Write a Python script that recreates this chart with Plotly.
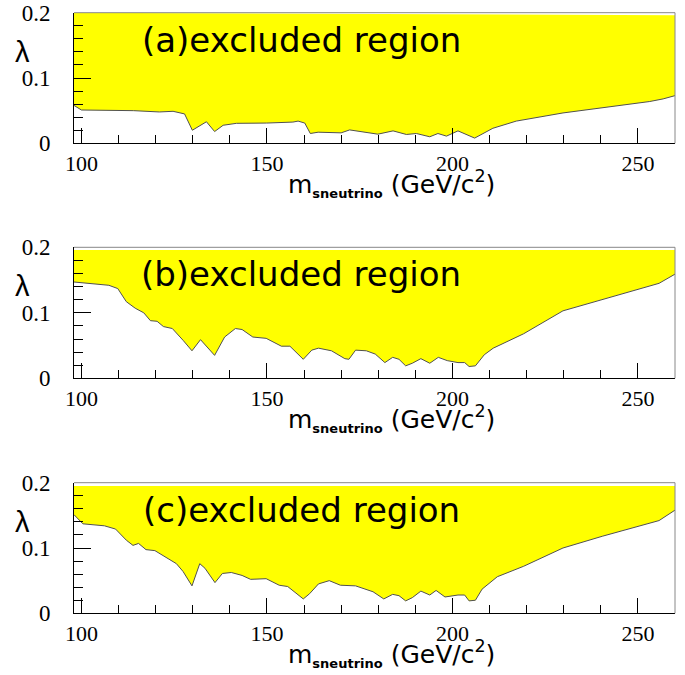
import plotly.graph_objects as go

# ---------------- data ----------------
x_range = [98, 260]
y_range = [0, 0.2]
x_major = [100, 150, 200, 250]
y_major = [0, 0.1, 0.2]
y_major_text = ["0", "0.1", "0.2"]

xa = [98, 100, 114, 121, 124.7, 127.8, 129.9, 133.7, 135.9, 138.2, 141.8, 149.9, 157, 158.4,
      160.2, 161.7, 163.8, 168.7, 170, 172.3, 174.3, 179.9, 184, 187.6, 190.3, 193.9, 196.1,
      198.4, 201.5, 206, 210.9, 217.2, 229.8, 243.3, 253.2, 256.8, 260]
ya = [0.058, 0.051, 0.050, 0.048, 0.049, 0.045, 0.020, 0.033, 0.018, 0.0276, 0.0306, 0.031,
      0.0325, 0.034, 0.031, 0.015, 0.017, 0.0165, 0.016, 0.0205, 0.019, 0.014, 0.019, 0.0135,
      0.015, 0.010, 0.015, 0.011, 0.019, 0.008, 0.023, 0.034, 0.0465, 0.0565, 0.064, 0.068, 0.073]

xb = [98, 100.4, 107.4, 109.8, 112.1, 114.5, 116.8, 118.6, 120.4, 122.1, 124.5, 127.4, 129.8,
      132.1, 133.9, 135.9, 138.6, 141.5, 143.3, 146.2, 149.8, 153.9, 156.2, 159.8, 162.1, 163.9,
      167.4, 171, 172.1, 173.9, 176.8, 179.2, 181.8, 183.9, 185.6, 187.4, 189.2, 191.5, 193.9,
      196.2, 198.6, 201.5, 203.3, 204.5, 206.2, 208.6, 211, 219.2, 229.8, 239.2, 249.8, 255.7, 260]
yb = [0.147, 0.146, 0.142, 0.137, 0.117, 0.107, 0.100, 0.088, 0.087, 0.079, 0.076, 0.058, 0.042,
      0.059, 0.048, 0.035, 0.063, 0.076, 0.0745, 0.063, 0.061, 0.049, 0.049, 0.029, 0.043, 0.046,
      0.042, 0.030, 0.029, 0.043, 0.042, 0.037, 0.024, 0.032, 0.029, 0.019, 0.023, 0.030, 0.023,
      0.032, 0.027, 0.024, 0.024, 0.018, 0.019, 0.036, 0.046, 0.068, 0.103, 0.118, 0.135, 0.145, 0.159]

xc = [98, 100.4, 106.2, 109.2, 112.1, 113.9, 115.4, 117.4, 119.8, 122.7, 125.6, 127.4, 129.8,
      131.9, 133.3, 136, 138, 140.4, 143.3, 145.6, 149.8, 153.3, 155.6, 159.8, 161.5, 163.9,
      166.8, 169.8, 173.9, 178.6, 181.5, 183.9, 185.6, 187.4, 189.2, 191.5, 193.9, 195.6, 198,
      201.5, 203.3, 204.5, 206.2, 208, 212.1, 219.2, 229.8, 240.4, 255.7, 260]
yc = [0.151, 0.137, 0.134, 0.129, 0.112, 0.104, 0.107, 0.0975, 0.096, 0.086, 0.076, 0.064, 0.042,
      0.076, 0.069, 0.047, 0.061, 0.0625, 0.058, 0.052, 0.053, 0.043, 0.041, 0.022, 0.030, 0.045,
      0.050, 0.043, 0.042, 0.033, 0.022, 0.029, 0.027, 0.019, 0.024, 0.034, 0.028, 0.035, 0.025,
      0.028, 0.028, 0.019, 0.020, 0.037, 0.056, 0.072, 0.100, 0.118, 0.142, 0.158]

top_a = [0.2, 0.196]
top_b = [0.196, 0.196]
top_c = [0.195, 0.195]

panel_tags = ["(a)", "(b)", "(c)"]
region_text = "excluded region"
y_title = "λ"
x_title = "m<sub><span style='font-size:13px'><b>sneutrino</b></span></sub> (GeV/c<sup>2</sup>)"

# ---------------- layout helpers ----------------
W, H = 685, 675
left_px, right_px = 74, 675
panels_px = [(12.7, 143.3), (247.3, 378.3), (482.7, 613.3)]  # (top, bottom) in px

def py(p):
    return 1 - p / H

def px(p):
    return p / W

fig = go.Figure()
curves = [(xa, ya, top_a), (xb, yb, top_b), (xc, yc, top_c)]

annotations = []
shapes = []
for i, (xs, ys, top) in enumerate(curves):
    n = "" if i == 0 else str(i + 1)
    xref, yref = "x" + n, "y" + n
    fig.add_trace(go.Scatter(
        x=list(xs) + [x_range[1], x_range[0]],
        y=list(ys) + [top[1], top[0]],
        fill="toself", fillcolor="#ffff00", mode="lines",
        line=dict(width=0), hoverinfo="skip", showlegend=False,
        xaxis=xref, yaxis=yref))
    fig.add_trace(go.Scatter(
        x=xs, y=ys, mode="lines", line=dict(color="#505050", width=1),
        hoverinfo="skip", showlegend=False, xaxis=xref, yaxis=yref))

    top_p, bot_p = panels_px[i]
    fig.layout["xaxis" + n] = dict(
        domain=[px(left_px), px(right_px)], range=x_range, anchor=yref,
        tickvals=x_major, ticks="inside", ticklen=15, tickwidth=1, tickcolor="black",
        showline=True, linecolor="black", linewidth=1, showgrid=False, zeroline=False,
        tickfont=dict(family="Liberation Serif", size=22, color="black"),
        ticklabelstandoff=0, automargin=False,
        minor=dict(dtick=10, tick0=100, ticks="inside", ticklen=8, tickwidth=1,
                   tickcolor="black", showgrid=False),
        fixedrange=True)
    fig.layout["yaxis" + n] = dict(
        domain=[py(bot_p), py(top_p)], range=y_range, anchor=xref,
        tickvals=y_major, ticktext=y_major_text, ticks="inside", ticklen=17, tickwidth=1,
        tickcolor="black", showline=True, linecolor="black", linewidth=1,
        showgrid=False, zeroline=False,
        tickfont=dict(family="Liberation Serif", size=23, color="black"),
        ticklabelstandoff=18, automargin=False,
        minor=dict(dtick=0.02, tick0=0, ticks="inside", ticklen=9, tickwidth=1,
                   tickcolor="black", showgrid=False),
        fixedrange=True)

    # top and right frame lines
    shapes.append(dict(type="line", xref=xref + " domain", yref=yref + " domain",
                       x0=0, x1=1, y0=1, y1=1, line=dict(color="#888888", width=1)))
    shapes.append(dict(type="line", xref=xref + " domain", yref=yref + " domain",
                       x0=1, x1=1, y0=0, y1=1, line=dict(color="#888888", width=1)))

    annotations.append(dict(
        text=panel_tags[i] + region_text, xref="paper", yref="paper",
        x=px(301), y=py(top_p + 27), xanchor="center", yanchor="middle", showarrow=False,
        font=dict(family="DejaVu Sans", size=34, color="black")))
    annotations.append(dict(
        text=y_title, xref="paper", yref="paper",
        x=px(22), y=py(top_p + 39), xanchor="center", yanchor="middle", showarrow=False,
        font=dict(family="Liberation Sans", size=29, color="black")))
    annotations.append(dict(
        text=x_title, xref="paper", yref="paper",
        x=px(392), y=py(bot_p + 40), xanchor="center", yanchor="middle", showarrow=False,
        font=dict(family="DejaVu Sans", size=25, color="black")))

fig.update_layout(
    width=W, height=H, margin=dict(l=0, r=0, t=0, b=0, pad=0, autoexpand=False),
    paper_bgcolor="white", plot_bgcolor="white", hovermode=False,
    annotations=annotations, shapes=shapes, showlegend=False)

fig.write_html("out.html", config={"displayModeBar": False, "staticPlot": True},
               post_script="document.body.style.margin='0';document.body.style.overflow='hidden';")
